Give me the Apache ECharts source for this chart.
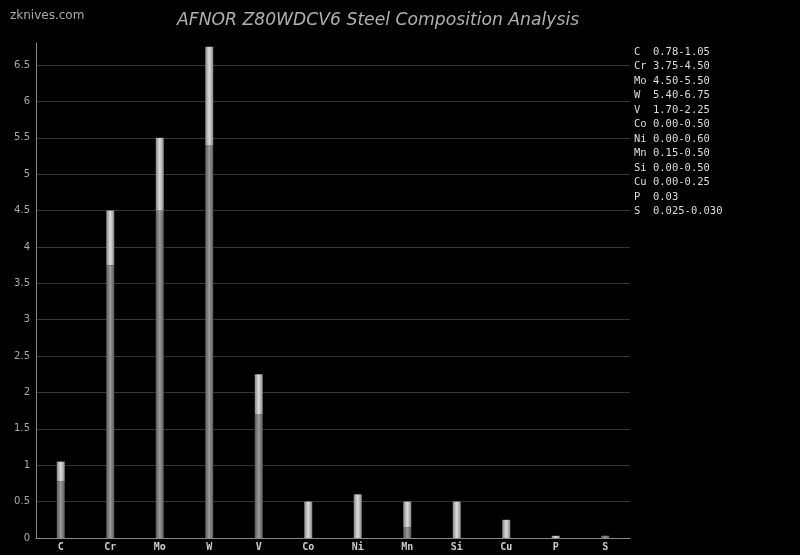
<!DOCTYPE html>
<html><head><meta charset="utf-8">
<script src="https://cdn.jsdelivr.net/npm/echarts@6/dist/echarts.min.js"></script>
<style>html,body{margin:0;padding:0;background:#000}#c{width:800px;height:555px}</style>
</head><body><div id="c"></div>
<script>
const categories = ['C','Cr','Mo','W','V','Co','Ni','Mn','Si','Cu','P','S'];
const minValues = [0.78,3.75,4.50,5.40,1.70,0.00,0.00,0.15,0.00,0.00,0.00,0.025];
const maxValues = [1.05,4.50,5.50,6.75,2.25,0.50,0.60,0.50,0.50,0.25,0.03,0.030];
const rangeLabels = ['0.78-1.05','3.75-4.50','4.50-5.50','5.40-6.75','1.70-2.25','0.00-0.50','0.00-0.60','0.15-0.50','0.00-0.50','0.00-0.25','0.03','0.025-0.030'];
const yTicks = { min: 0, max: 6.8, interval: 0.5 };

const rangeValues = maxValues.map((m, i) => +(m - minValues[i]).toFixed(4));
const legendText = categories.map((c, i) => (c + '  ').slice(0, 3) + rangeLabels[i]).join('\n');

function grad(edge, mid) {
  return new echarts.graphic.LinearGradient(0, 0, 1, 0, [
    { offset: 0, color: edge }, { offset: 0.5, color: mid }, { offset: 1, color: edge }
  ]);
}

const chart = echarts.init(document.getElementById('c'));
chart.setOption({
  backgroundColor: '#000',
  animation: false,
  title: {
    text: 'AFNOR Z80WDCV6 Steel Composition Analysis',
    left: 172, top: 7,
    textStyle: { color: '#b0b0b0', fontSize: 17.2, fontStyle: 'italic', fontWeight: 'normal', fontFamily: 'DejaVu Sans' }
  },
  graphic: [
    { type: 'text', left: 10, top: 10, style: { text: 'zknives.com', fill: '#aaa', fontSize: 12, fontFamily: 'DejaVu Sans' } },
    { type: 'text', left: 634, top: 45, style: { text: legendText, fill: '#ddd', fontSize: 10.5, lineHeight: 14.5, fontFamily: 'DejaVu Sans Mono' } }
  ],
  grid: { left: 36, right: 170, top: 43.2, bottom: 17, containLabel: false },
  xAxis: {
    type: 'category', data: categories,
    axisLine: { lineStyle: { color: '#888', width: 1 } },
    axisTick: { show: false },
    axisLabel: { color: '#ccc', fontSize: 10, fontFamily: 'DejaVu Sans Mono', fontWeight: 'bold', margin: 4 }
  },
  yAxis: {
    type: 'value', min: yTicks.min, max: yTicks.max, interval: yTicks.interval,
    axisLine: { show: true, lineStyle: { color: '#888' } },
    axisTick: { show: false },
    axisLabel: { color: '#aaa', fontSize: 10, fontFamily: 'DejaVu Sans', margin: 6, showMaxLabel: false },
    splitLine: { show: true, showMaxLine: false, lineStyle: { color: '#363636' } }
  },
  series: [
    { type: 'bar', stack: 'a', data: minValues, barWidth: 8, itemStyle: { color: grad('#5a5a5a', '#9a9a9a') } },
    { type: 'bar', stack: 'a', data: rangeValues, barWidth: 8, itemStyle: { color: grad('#888888', '#dddddd') } }
  ]
});
</script></body></html>
